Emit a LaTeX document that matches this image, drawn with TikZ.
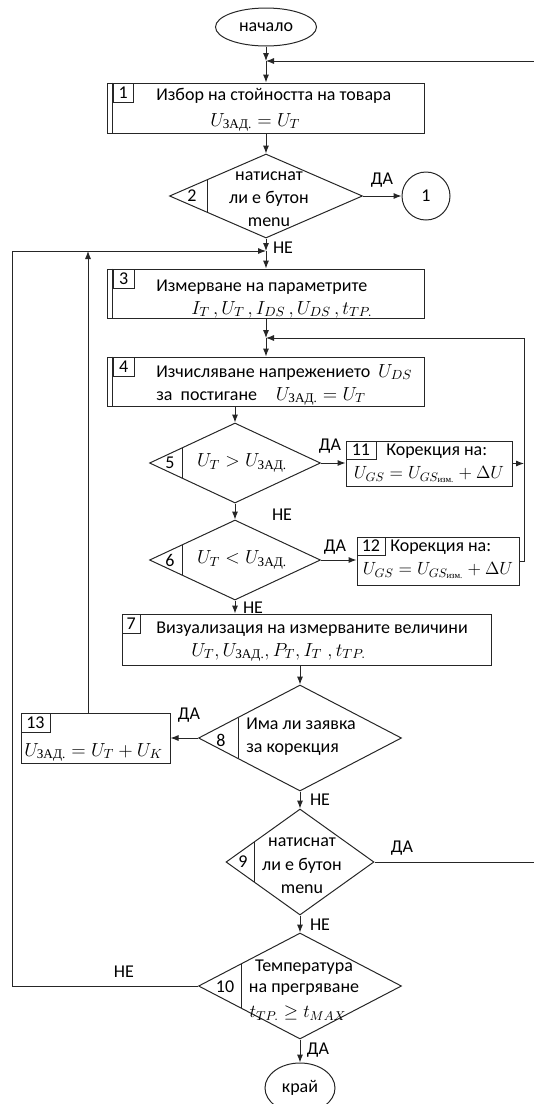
\documentclass[tikz,border=0pt]{standalone}
\usepackage{fix-cm}
\usepackage{amsmath}
\usepackage{fontspec}
\setmainfont{Carlito}
\newfontfamily\cyrs{Liberation Serif}
\usetikzlibrary{shapes.geometric,arrows.meta}
\newcommand{\zad}{\text{\cyrs ЗАД.}}
\newcommand{\izm}{\text{\cyrs изм.}}
\newcommand{\mf}{\fontsize{14.2}{17}\selectfont}
\begin{document}
\begin{tikzpicture}[x=0.75pt,y=-0.75pt,
  font=\fontsize{13.5}{16}\selectfont,
  ln/.style={line width=0.75pt, draw=black!85},
  arr/.style={ln, -{Latex[length=6pt,width=4.6pt]}},
  blk/.style={rectangle, draw=black!85, line width=0.75pt, inner sep=0pt},
  dec/.style={diamond, draw=black!85, line width=0.75pt, inner sep=0pt},
  term/.style={ellipse, draw=black!85, line width=0.75pt, inner sep=0pt},
  numbox/.style={rectangle, draw=black!85, line width=0.6pt, inner sep=0pt, minimum height=14.25pt, anchor=north west},
  txt/.style={inner sep=0pt, anchor=base west},
  mth/.style={inner sep=0pt, font=\mf},
  lbl/.style={inner sep=0pt}]
\useasboundingbox (0,0) rectangle (533,1104);

% ---- shapes ----
\node[term, minimum width=75.75pt, minimum height=28.5pt] (start) at (266,27) {начало};
\node[blk, minimum width=238.1pt, minimum height=37.5pt] (b1) at (266,108) {};
\node[dec, minimum width=144.75pt, minimum height=63pt] (d2) at (266,196) {};
\node[circle, draw=black!85, line width=0.75pt, inner sep=0pt, minimum size=36pt] (c1) at (426,196) {1};
\node[blk, minimum width=238.1pt, minimum height=36.75pt] (b3) at (266,293.5) {};
\node[blk, minimum width=238.1pt, minimum height=36.75pt] (b4) at (266,381.5) {};
\node[dec, minimum width=128.25pt, minimum height=60pt] (d5) at (235,463) {};
\node[blk, minimum width=124.5pt, minimum height=33.75pt] (b11) at (429,463.5) {};
\node[dec, minimum width=128.25pt, minimum height=60pt] (d6) at (235,560) {};
\node[blk, minimum width=121.5pt, minimum height=36pt] (b12) at (438,561) {};
\node[blk, minimum width=276.75pt, minimum height=38.25pt] (b7) at (306.5,639.5) {};
\node[dec, minimum width=152.25pt, minimum height=79.5pt] (d8) at (300,738) {};
\node[blk, minimum width=111.75pt, minimum height=37.5pt] (b13) at (95.5,738) {};
\node[dec, minimum width=111pt, minimum height=79.5pt] (d9) at (300,862) {};
\node[dec, minimum width=152.25pt, minimum height=79.5pt] (d10) at (300,986) {};
\node[term, minimum width=52.5pt, minimum height=37.5pt] (end) at (300,1088) {край};

% double left edges
\draw[ln] ([xshift=4.5pt]b1.north west) -- ([xshift=4.5pt]b1.south west);
\draw[ln] ([xshift=4.5pt]b3.north west) -- ([xshift=4.5pt]b3.south west);
\draw[ln] ([xshift=4.5pt]b4.north west) -- ([xshift=4.5pt]b4.south west);

% number boxes
\node[numbox, minimum width=15pt] (n1) at ([xshift=4.5pt]b1.north west) {1};
\node[numbox, minimum width=15.75pt] (n3) at ([xshift=4.5pt]b3.north west) {3};
\node[numbox, minimum width=15.75pt] (n4) at ([xshift=4.5pt]b4.north west) {4};
\node[numbox, minimum width=22.5pt, minimum height=13.5pt] (n11) at (b11.north west) {11};
\node[numbox, minimum width=21pt, minimum height=13.5pt] (n12) at (b12.north west) {12};
\node[numbox, minimum width=14pt] (n7) at (b7.north west) {7};
\node[numbox, minimum width=21.75pt] (n13) at (b13.north west) {13};

% diamond inner lines and numbers
\draw[ln] (207,180) -- (207,212);
\node[lbl] (n2) at (192,196) {2};
\draw[ln] (182,447.8) -- (182,478.2);
\node[lbl] (n5) at (170,463) {5};
\draw[ln] (182,544.8) -- (182,575.2);
\node[lbl] (n6) at (170,560) {6};
\draw[ln] (238,717.6) -- (238,758.4);
\node[lbl] (n8) at (221,740) {8};
\draw[ln] (254,842) -- (254,882);
\node[lbl] (n9) at (243,862) {9};
\draw[ln] (241,964) -- (241,1008);
\node[lbl] (n10) at (225,987) {10};

% ---- texts ----
\node[txt] (t1a) at (156,100) {Избор на стойността на товара};
\node[txt, font=\mf] (t1b) at (210,126) {$U_{\zad} = U_T$};
\node[lbl, align=center, font=\fontsize{13.5}{17.25}\selectfont] (t2) at (269,199) {натиснат\\ли е бутон\\menu};
\node[txt] (t3a) at (156,291) {Измерване на параметрите};
\node[txt, font=\mf] (t3b) at (191,314) {$I_T\,,U_T\,,I_{DS}\,,U_{DS}\,,t_{TP.}$};
\node[txt] (t4a) at (156,377) {Изчисляване напрежението\hspace{6pt}{\mf$U_{DS}$}};
\node[txt] (t4b) at (156,400) {за\ \ постигане\hspace{14pt}{\mf$U_{\zad} = U_T$}};
\node[mth] (t5) at (242,463) {$U_T > U_{\zad}$};
\node[mth] (t6) at (242,560) {$U_T < U_{\zad}$};
\node[txt] (t11a) at (386,455) {Корекция на:};
\node[mth, font=\fontsize{13.25}{16}\selectfont] (t11b) at (429,475) {$U_{GS} = U_{GS_{\izm}} + \Delta U$};
\node[txt] (t12a) at (390,551) {Корекция на:};
\node[mth, font=\fontsize{13.25}{16}\selectfont] (t12b) at (438,571) {$U_{GS} = U_{GS_{\izm}} + \Delta U$};
\node[txt] (t7a) at (156,633) {Визуализация на измерваните величини};
\node[txt, font=\mf] (t7b) at (191,656) {$U_T,U_{\zad},P_T,I_T\;,t_{TP.}$};
\node[lbl, align=left, anchor=west, font=\fontsize{13.5}{17.25}\selectfont] (t8) at (246,737) {Има ли заявка\\за корекция};
\node[txt, font=\mf] (t13) at (24,756) {$U_{\zad} = U_T + U_K$};
\node[lbl, align=center, font=\fontsize{13.5}{17.6}\selectfont] (t9) at (302,866) {натиснат\\ли е бутон\\menu};
\node[lbl] (t10a) at (304,967) {Температура};
\node[lbl] (t10b) at (304,990) {на прегряване};
\node[mth, font=\fontsize{13.75}{16}\selectfont] (t10c) at (298,1013) {$t_{TP.} \ge t_{MAX}$};

% ---- labels ----
\node[lbl] (l2y) at (382,180) {ДА};
\node[lbl] (l2n) at (283,248) {НЕ};
\node[lbl] (l5y) at (330,446) {ДА};
\node[lbl] (l5n) at (282,515) {НЕ};
\node[lbl] (l6y) at (335,547) {ДА};
\node[lbl] (l6n) at (253,608) {НЕ};
\node[lbl] (l8y) at (189,715) {ДА};
\node[lbl] (l8n) at (320,800) {НЕ};
\node[lbl] (l9y) at (402,848) {ДА};
\node[lbl] (l9n) at (320,925) {НЕ};
\node[lbl] (l10n) at (124,972) {НЕ};
\node[lbl] (l10y) at (318,1050) {ДА};

% ---- junctions ----
\coordinate (J1) at (266,61);
\coordinate (J2) at (266,251);
\coordinate (J3) at (266,338);
\coordinate (U1) at (88,251);
\coordinate (R1) at (540,61);
\coordinate (R2) at (540,862);
\coordinate (L1) at (12,986);
\coordinate (L2) at (12,251);
\coordinate (R3) at (524,463.5);
\coordinate (R4) at (524,561);
\coordinate (R5) at (524,338);

% ---- connectors ----
\draw[arr] (start) -- (J1);
\draw[arr] (J1) -- (b1);
\draw[arr] (d9.east) -- (R2) -- (R1) -- (J1);
\draw[arr] (b1) -- (d2);
\draw[arr] (d2.east) -- (d2.east -| c1.west);
\draw[arr] (d2) -- (J2);
\draw[arr] (J2) -- (b3);
\draw[arr] (d10.west) -- (L1) -- (L2) -- (J2);
\draw[arr] (U1 |- b13.north) -- (U1);
\draw[arr] (b3) -- (J3);
\draw[arr] (J3) -- (b4);
\draw[arr] (d5.north |- b4.south) -- (d5.north);
\draw[arr] (d5.east) -- (d5.east -| b11.west);
\draw[arr] (b11.east) -- (R3);
\draw[arr] (b12.east) -- (R4) -- (R5) -- (J3);
\draw[arr] (d5) -- (d6);
\draw[arr] (d6.east) -- (d6.east -| b12.west);
\draw[arr] (d6.south) -- (d6.south |- b7.north);
\draw[arr] (d8.north |- b7.south) -- (d8.north);
\draw[arr] (d8.west) -- (d8.west -| b13.east);
\draw[arr] (d8) -- (d9);
\draw[arr] (d9) -- (d10);
\draw[arr] (d10) -- (end);
\end{tikzpicture}
\end{document}
